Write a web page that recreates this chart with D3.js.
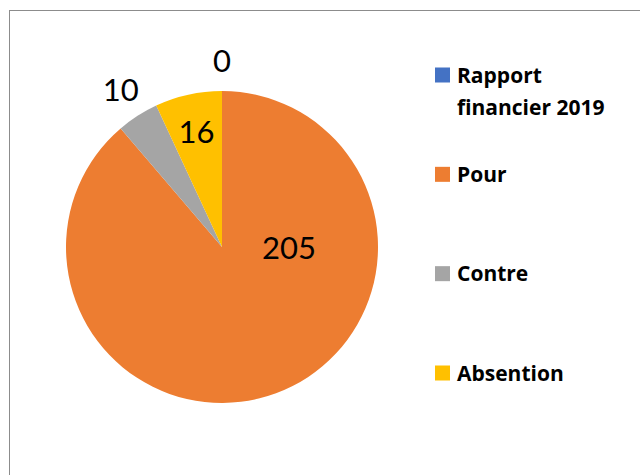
<!DOCTYPE html>
<html>
<head>
<meta charset="utf-8">
<script src="https://cdn.jsdelivr.net/npm/d3@7"></script>
<style>
  body { margin: 0; background: #fff; }
  svg { display: block; }
</style>
</head>
<body>
<svg id="chart" width="640" height="475"></svg>
<script>
// chart data
const categories = ['Rapport financier 2019', 'Pour', 'Contre', 'Absention'];
const values = [0, 205, 10, 16];
const colors = ['#4472C4', '#ED7D31', '#A5A5A5', '#FFC000'];

const svg = d3.select('#chart');

// outer frame (runs off the right/bottom edge like the original)
svg.append('rect')
  .attr('x', 9.5).attr('y', 10.5)
  .attr('width', 640).attr('height', 480)
  .attr('fill', 'none')
  .attr('stroke', '#8c8c8c')
  .attr('stroke-width', 1);

const cx = 222, cy = 247, r = 156;

const pie = d3.pie().sort(null).value(d => d)
  .startAngle(0).endAngle(2 * Math.PI);
const arcs = pie(values);

const arc = d3.arc().innerRadius(0).outerRadius(r);

const g = svg.append('g').attr('transform', 'translate(' + cx + ',' + cy + ')');

g.selectAll('path.slice')
  .data(arcs)
  .enter().append('path')
  .attr('class', 'slice')
  .attr('d', arc)
  .attr('fill', (d, i) => colors[i]);

// labels: small slices outside, medium inside, the big one near the middle-right
function labelPos(d) {
  let a = (d.startAngle + d.endAngle) / 2;
  let rr;
  const frac = (d.endAngle - d.startAngle) / (2 * Math.PI);
  if (frac > 0.5) { a = Math.PI / 2; rr = r * 0.43; }
  else if (frac < 0.05) { rr = r * 1.2; }
  else { rr = r * 0.76; }
  return [Math.sin(a) * rr, -Math.cos(a) * rr];
}

g.selectAll('text.lbl')
  .data(arcs)
  .enter().append('text')
  .attr('class', 'lbl')
  .attr('transform', d => 'translate(' + labelPos(d) + ')')
  .attr('text-anchor', 'middle')
  .attr('dy', '0.38em')
  .attr('font-family', 'Lato, "Open Sans", sans-serif')
  .attr('font-size', 31)
  .attr('fill', '#000')
  .text(d => d.data);

// legend
const legendY = d3.scalePoint().domain(categories).range([75, 373]);

const leg = svg.selectAll('g.leg')
  .data(categories)
  .enter().append('g')
  .attr('class', 'leg')
  .attr('transform', d => 'translate(435,' + legendY(d) + ')');

leg.append('rect')
  .attr('x', 0).attr('y', -7.5)
  .attr('width', 15).attr('height', 15)
  .attr('fill', (d, i) => colors[i]);

leg.append('text')
  .attr('x', 22)
  .attr('font-family', '"Open Sans", Lato, sans-serif')
  .attr('font-weight', 'bold')
  .attr('font-size', 21)
  .attr('fill', '#000')
  .each(function (d) {
    const t = d3.select(this);
    if (d === 'Rapport financier 2019') {
      t.append('tspan').attr('x', 22).attr('dy', '0.36em').text('Rapport');
      t.append('tspan').attr('x', 22).attr('dy', 32).text('financier 2019');
    } else {
      t.attr('dy', '0.36em').text(d);
    }
  });
</script>
</body>
</html>
